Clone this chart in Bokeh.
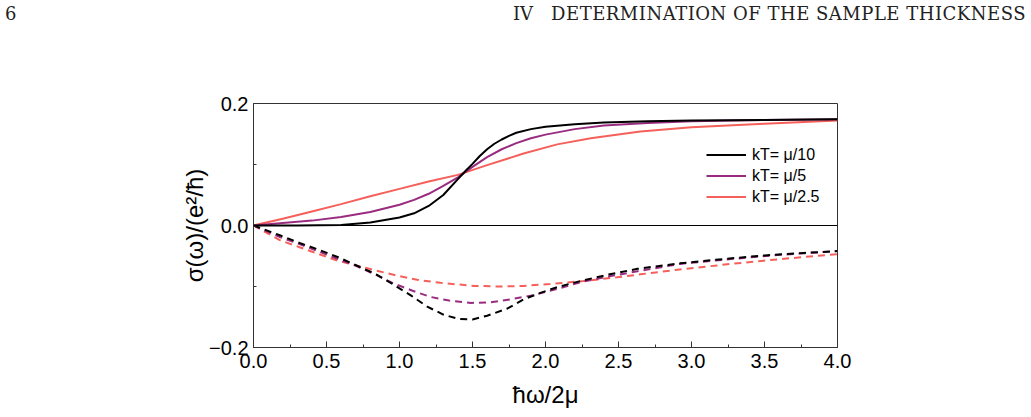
from bokeh.plotting import figure
from bokeh.layouts import column
from bokeh.models import (FixedTicker, Span, Legend, LegendItem, Div)
from bokeh.embed import file_html
from bokeh.resources import INLINE

# ---------------- data ----------------
series_names = ["kT= \u03bc/10", "kT= \u03bc/5", "kT= \u03bc/2.5"]
series_colors = ["#000000", "#9a2c80", "#f5605a"]

# real part (solid)
re_x_10 = [0, 0.3, 0.6, 0.8, 1.0, 1.1, 1.2, 1.3, 1.4, 1.45, 1.5, 1.55, 1.6, 1.65, 1.7, 1.75, 1.8, 1.9, 2.0, 2.2, 2.4, 2.7, 3.0, 3.5, 4.0]
re_y_10 = [0, 0.0, 0.001, 0.005, 0.013, 0.020, 0.032, 0.050, 0.076, 0.089, 0.101, 0.114, 0.125, 0.134, 0.141, 0.147, 0.152, 0.158, 0.162, 0.166, 0.169, 0.171, 0.172, 0.173, 0.174]

re_x_5 = [0, 0.2, 0.4, 0.6, 0.8, 1.0, 1.1, 1.2, 1.3, 1.4, 1.5, 1.6, 1.7, 1.8, 1.9, 2.0, 2.2, 2.4, 2.7, 3.0, 3.5, 4.0]
re_y_5 = [0, 0.004, 0.008, 0.014, 0.022, 0.034, 0.042, 0.052, 0.065, 0.079, 0.096, 0.112, 0.125, 0.135, 0.143, 0.149, 0.158, 0.164, 0.168, 0.171, 0.173, 0.174]

re_x_25 = [0, 0.2, 0.4, 0.6, 0.8, 1.0, 1.2, 1.4, 1.6, 1.85, 2.08, 2.31, 2.65, 3.0, 3.5, 4.0]
re_y_25 = [0, 0.011, 0.023, 0.035, 0.048, 0.060, 0.072, 0.083, 0.099, 0.118, 0.133, 0.143, 0.154, 0.161, 0.167, 0.172]

# imaginary part (dashed)
im_x_10 = [0, 0.18, 0.32, 0.45, 0.58, 0.71, 0.84, 0.96, 1.08, 1.19, 1.3, 1.4, 1.5, 1.6, 1.74, 1.85, 1.97, 2.08, 2.24, 2.42, 2.63, 2.92, 3.22, 3.5, 3.77, 4.0]
im_y_10 = [0, -0.016, -0.029, -0.040, -0.052, -0.066, -0.080, -0.097, -0.115, -0.133, -0.146, -0.153, -0.154, -0.148, -0.136, -0.121, -0.110, -0.101, -0.091, -0.081, -0.071, -0.062, -0.055, -0.049, -0.045, -0.042]

im_x_5 = [0, 0.18, 0.32, 0.45, 0.58, 0.71, 0.84, 0.96, 1.09, 1.21, 1.34, 1.49, 1.62, 1.76, 1.92, 2.08, 2.24, 2.42, 2.63, 2.92, 3.27, 3.61, 4.0]
im_y_5 = [0, -0.019, -0.031, -0.043, -0.055, -0.067, -0.081, -0.095, -0.107, -0.117, -0.123, -0.127, -0.126, -0.121, -0.114, -0.104, -0.093, -0.084, -0.075, -0.063, -0.055, -0.048, -0.042]

im_x_25 = [0, 0.18, 0.32, 0.45, 0.58, 0.71, 0.86, 0.98, 1.12, 1.28, 1.51, 1.69, 1.85, 2.03, 2.26, 2.49, 2.65, 2.92, 3.27, 3.61, 4.0]
im_y_25 = [0, -0.024, -0.036, -0.047, -0.058, -0.066, -0.075, -0.082, -0.089, -0.094, -0.099, -0.100, -0.099, -0.096, -0.091, -0.085, -0.080, -0.072, -0.063, -0.055, -0.047]

x_ticks = [0.0, 0.5, 1.0, 1.5, 2.0, 2.5, 3.0, 3.5, 4.0]
x_minor = [0.25, 0.75, 1.25, 1.75, 2.25, 2.75, 3.25, 3.75]
y_ticks = [-0.2, 0.0, 0.2]
y_minor = [-0.1, 0.1]

header_page = "6"
header_section = "IV"
header_title = "DETERMINATION OF THE SAMPLE THICKNESS"

FONT = "Liberation Sans"

# ---------------- header strip (running head of the page) ----------------
HDR_H = 40
hdr_html = (
    '<div style="position:relative;width:1031px;height:%dpx;'
    "font-family:'DejaVu Serif',serif;font-size:18px;line-height:1;color:#222;\">"
    '<span style="position:absolute;left:5px;top:5px;">%s</span>'
    '<span style="position:absolute;left:513px;top:5px;">%s</span>'
    '<span style="position:absolute;right:5px;top:5px;white-space:nowrap;letter-spacing:0.5px;">%s</span>'
    '</div>' % (HDR_H, header_page, header_section, header_title)
)
hdr = Div(text=hdr_html, width=1031, height=HDR_H, margin=0)

# ---------------- main plot ----------------
p = figure(width=1031, height=417 - HDR_H, x_range=(0, 4), y_range=(-0.2, 0.2),
           output_backend="svg", toolbar_location=None,
           min_border_left=253, min_border_right=194,
           min_border_top=103 - HDR_H, min_border_bottom=70)
p.background_fill_color = "white"
p.border_fill_color = "white"
p.grid.visible = False
p.outline_line_color = "#333333"
p.outline_line_width = 1

for ax in (p.xaxis[0], p.yaxis[0]):
    ax.axis_line_color = "#333333"
    ax.axis_line_width = 1
    ax.major_tick_in = 6
    ax.major_tick_out = 0
    ax.minor_tick_in = 3
    ax.minor_tick_out = 0
    ax.major_tick_line_color = "#333333"
    ax.minor_tick_line_color = "#333333"
    ax.major_label_text_font = FONT
    ax.major_label_text_font_size = "20px"
    ax.major_label_text_color = "black"
    ax.axis_label_text_font = FONT
    ax.axis_label_text_font_size = "24px"
    ax.axis_label_text_font_style = "normal"
    ax.axis_label_text_color = "black"

p.xaxis.ticker = FixedTicker(ticks=x_ticks, minor_ticks=x_minor)
p.yaxis.ticker = FixedTicker(ticks=y_ticks, minor_ticks=y_minor)
p.xaxis.major_label_overrides = {t: f"{t:.1f}" for t in x_ticks}
p.yaxis.major_label_overrides = {-0.2: "\u22120.2", 0.0: "0.0", 0.2: "0.2"}
p.xaxis.major_label_standoff = 6
p.yaxis.major_label_standoff = 5
p.xaxis.axis_label = "\u0127\u03c9/2\u03bc"
p.yaxis.axis_label = "\u03c3(\u03c9)/(e\u00b2/\u0127)"
p.xaxis.axis_label_standoff = 10
p.yaxis.axis_label_standoff = -2

p.add_layout(Span(location=0, dimension="width", line_color="black", line_width=1))

re_sets = [(re_x_10, re_y_10), (re_x_5, re_y_5), (re_x_25, re_y_25)]
im_sets = [(im_x_10, im_y_10), (im_x_5, im_y_5), (im_x_25, im_y_25)]

for (xs, ys), c in zip(im_sets[::-1], series_colors[::-1]):
    p.line(xs, ys, line_color=c, line_width=2, line_dash="7 5")
rends = []
for (xs, ys), c in zip(re_sets[::-1], series_colors[::-1]):
    rends.append(p.line(xs, ys, line_color=c, line_width=2))
rends = rends[::-1]
items = [LegendItem(label=name, renderers=[r]) for name, r in zip(series_names, rends)]

legend = Legend(items=items, location=(453, 140), orientation="vertical")
legend.border_line_color = None
legend.background_fill_alpha = 0
legend.padding = 0
legend.margin = 0
legend.spacing = 0
legend.label_height = 21
legend.glyph_height = 21
legend.glyph_width = 40
legend.label_standoff = 6
legend.label_text_font = FONT
legend.label_text_font_size = "16px"
legend.label_text_color = "black"
p.add_layout(legend, "center")

layout = column(hdr, p, spacing=0)
open("out.html", "w").write(file_html(layout, INLINE))
